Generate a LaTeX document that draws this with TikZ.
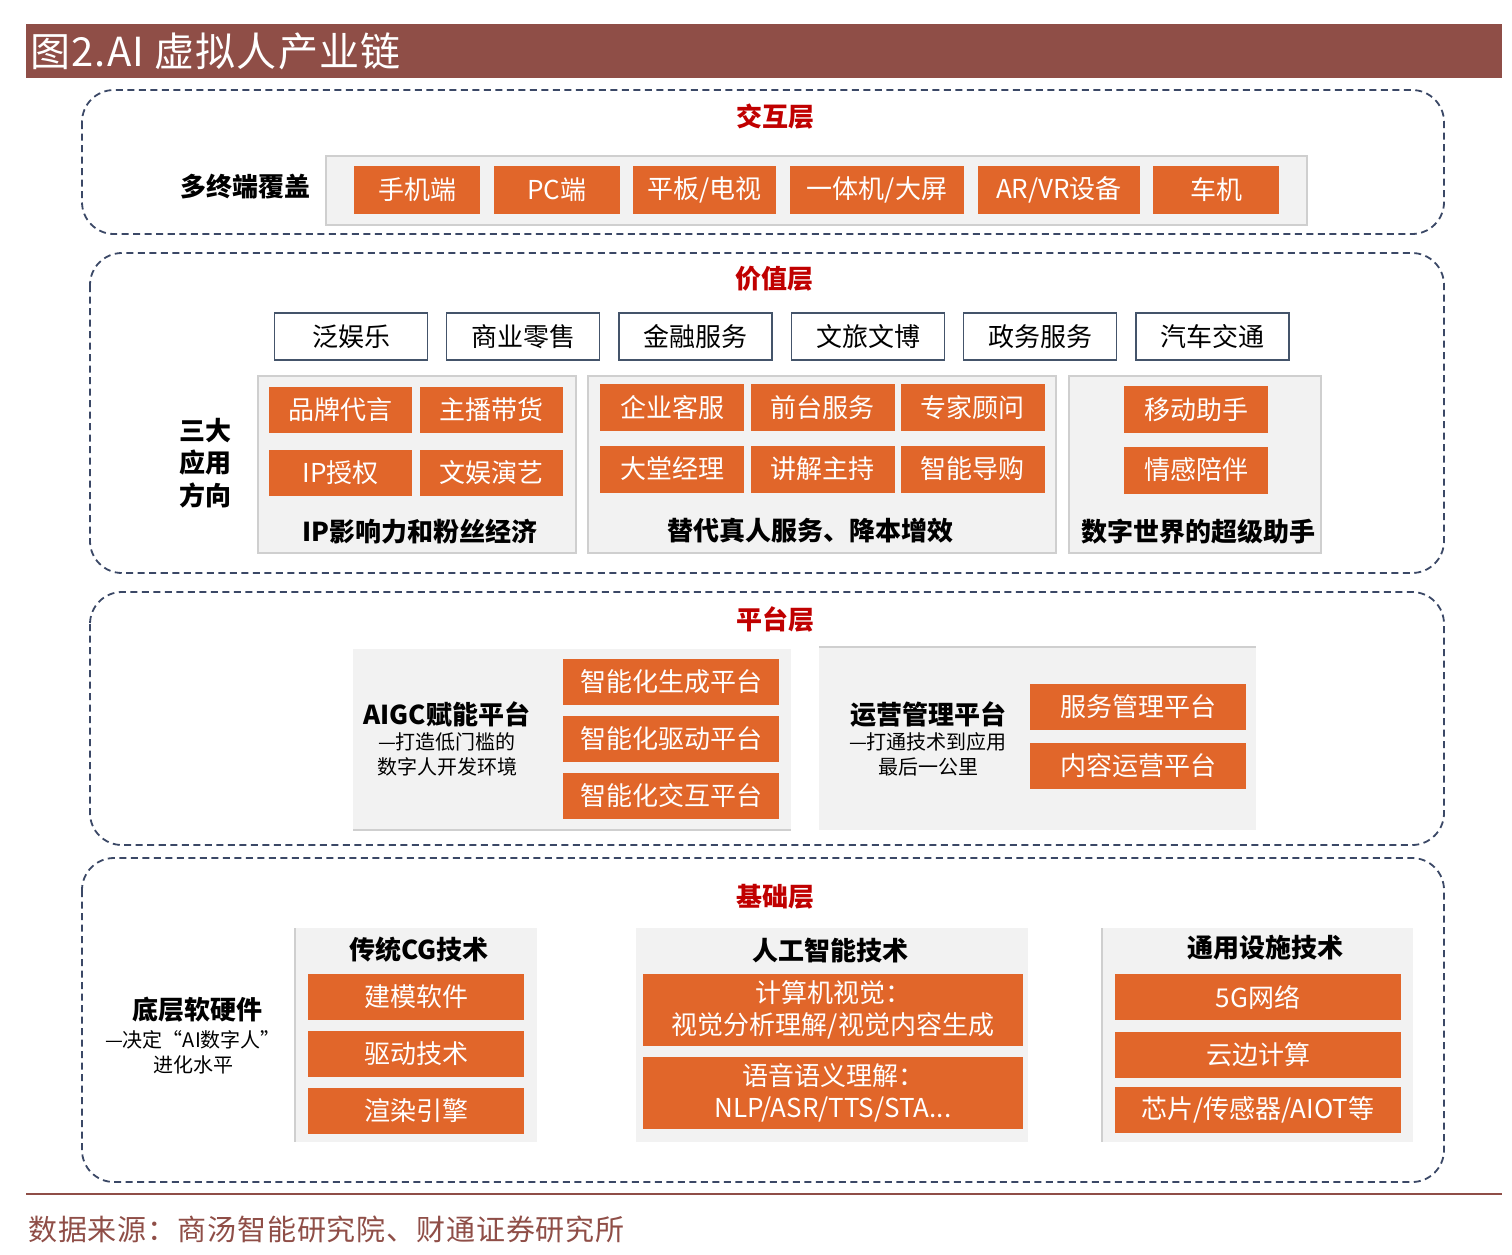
\documentclass[tikz,border=0pt]{standalone}
\usepackage{fontspec}
\setmainfont{Noto Sans CJK SC}
\definecolor{barbrown}{HTML}{8F4E47}
\definecolor{tileorange}{HTML}{E1662A}
\definecolor{layerred}{HTML}{C00000}
\definecolor{dashnavy}{HTML}{3B4866}
\definecolor{panelgray}{HTML}{F2F2F2}
\definecolor{edgegray}{HTML}{CFCFCF}
\definecolor{tagblue}{HTML}{44546A}

\begin{document}
\begin{tikzpicture}[x=1pt, y=-1pt,
    layer/.style={draw=dashnavy, line width=1.8pt, dash pattern=on 7pt off 4.5pt, rounded corners=32pt},
    panel/.style={fill=panelgray},
    edge/.style={draw=edgegray, line width=2pt},
    tile/.style={fill=tileorange, text=white, inner sep=0pt, minimum height=46pt, align=center, font=\fontsize{26}{32}\selectfont},
    tag/.style={draw=tagblue, line width=1.5pt, fill=white, inner sep=0pt, minimum width=153pt, minimum height=47pt, font=\fontsize{26}{32}\selectfont},
    head/.style={inner sep=0pt, align=center, font=\fontsize{26}{32.5}\selectfont\bfseries},
    lyr/.style={inner sep=0pt, text=layerred, font=\fontsize{26}{32}\selectfont\bfseries},
    note/.style={inner sep=0pt, align=center, font=\fontsize{20}{25}\selectfont}
]
\useasboundingbox (0,0) rectangle (1512,1254);

% title bar and source
\fill[barbrown] (26,24) rectangle (1502,78);
\node[anchor=west, inner sep=0pt, text=white, font=\fontsize{40}{44}\selectfont\addfontfeature{LetterSpace=3}] (title) at (30,51) {图2.AI 虚拟人产业链};
\draw[barbrown, line width=2pt] (26,1194) -- (1502,1194);
\node[anchor=west, inner sep=0pt, text=barbrown, font=\fontsize{29}{32}\selectfont\addfontfeature{LetterSpace=3}] (source) at (28,1229) {数据来源：商汤智能研究院、财通证券研究所};

% layers
\draw[layer] (82,90) rectangle (1444,234);
\draw[layer] (90,253) rectangle (1444,573);
\draw[layer] (90,592) rectangle (1444,845);
\draw[layer] (82,858) rectangle (1444,1182);
\node[lyr] (l1) at (775,117) {交互层};
\node[lyr] (l2) at (774,279) {价值层};
\node[lyr] (l3) at (775,619) {平台层};
\node[lyr] (l4) at (775,897) {基础层};

% interaction layer
\node[head] (term) at (245,187) {多终端覆盖};
\draw[panel, edge] (326,156) rectangle (1307,225);
\node[tile, minimum width=126pt, minimum height=48pt] (phone) at (417,190) {手机端};
\node[tile, minimum width=126pt, minimum height=48pt] (pc) at (557,190) {PC端};
\node[tile, minimum width=143pt, minimum height=48pt] (pad) at (704.5,190) {平板/电视};
\node[tile, minimum width=174pt, minimum height=48pt] (screen) at (877,190) {一体机/大屏};
\node[tile, minimum width=162pt, minimum height=48pt] (arvr) at (1059,190) {AR/VR设备};
\node[tile, minimum width=126pt, minimum height=48pt] (car) at (1216,190) {车机};

% value layer
\node[tag] (ent) at (351,336.5) {泛娱乐};
\node[tag] (retail) at (523,336.5) {商业零售};
\node[tag] (fin) at (695.5,336.5) {金融服务};
\node[tag] (tour) at (868,336.5) {文旅文博};
\node[tag] (gov) at (1040,336.5) {政务服务};
\node[tag] (auto) at (1212.5,336.5) {汽车交通};
\node[head] (three) at (205,463) {三大\\应用\\方向};

\draw[panel, edge] (258,376) rectangle (576,553);
\node[tile, minimum width=143pt] (brand) at (340.5,410) {品牌代言};
\node[tile, minimum width=143pt] (live) at (491,410) {主播带货};
\node[tile, minimum width=143pt] (ip) at (340.5,472.5) {IP授权};
\node[tile, minimum width=143pt] (show) at (491,472.5) {文娱演艺};
\node[head] (fans) at (420,532) {IP影响力和粉丝经济};

\draw[panel, edge] (588,376) rectangle (1056,553);
\node[tile, minimum width=144pt, minimum height=47pt] (cs) at (672,407.5) {企业客服};
\node[tile, minimum width=144pt, minimum height=47pt] (desk) at (822.5,407.5) {前台服务};
\node[tile, minimum width=144pt, minimum height=47pt] (expert) at (972.5,407.5) {专家顾问};
\node[tile, minimum width=144pt, minimum height=47pt] (lobby) at (672,469) {大堂经理};
\node[tile, minimum width=144pt, minimum height=47pt] (host) at (822.5,469) {讲解主持};
\node[tile, minimum width=144pt, minimum height=47pt] (guide) at (972.5,469) {智能导购};
\node[head] (serve) at (810,531) {替代真人服务、降本增效};

\draw[panel, edge] (1069,376) rectangle (1321,553);
\node[tile, minimum width=144pt, minimum height=47pt] (mobile) at (1196,409.5) {移动助手};
\node[tile, minimum width=144pt, minimum height=47pt] (emo) at (1196,470) {情感陪伴};
\node[head] (helper) at (1198,532) {数字世界的超级助手};

% platform layer
\fill[panel] (353,649) rectangle (791,830);
\draw[edge] (353,830) -- (791,830);
\node[head] (aigc) at (447,714) {AIGC赋能平台};
\node[note] (aigcnote) at (447,754.5) {—打造低门槛的\\数字人开发环境};
\node[tile, minimum width=216pt] (gen) at (671,682) {智能化生成平台};
\node[tile, minimum width=216pt] (drive) at (671,739) {智能化驱动平台};
\node[tile, minimum width=216pt] (inter) at (671,796) {智能化交互平台};

\fill[panel] (819,647) rectangle (1256,830);
\draw[edge] (819,647) -- (1256,647);
\node[head] (ops) at (928,714) {运营管理平台};
\node[note] (opsnote) at (928,754.5) {—打通技术到应用\\最后一公里};
\node[tile, minimum width=216pt] (svc) at (1138,707) {服务管理平台};
\node[tile, minimum width=216pt] (cont) at (1138,765.5) {内容运营平台};

% base layer
\node[head] (hw) at (197,1010) {底层软硬件};
\node[note] (hwnote) at (193,1052) {—决定“AI数字人”\\进化水平};

\fill[panel] (294,928) rectangle (537,1142);
\draw[edge] (295,928) -- (295,1142);
\node[head] (cg) at (419,950) {传统CG技术};
\node[tile, minimum width=216pt] (model) at (416,997) {建模软件};
\node[tile, minimum width=216pt] (drv) at (416,1054) {驱动技术};
\node[tile, minimum width=216pt] (render) at (416,1111) {渲染引擎};

\fill[panel] (636,928) rectangle (1028,1142);
\node[head] (ai) at (830,951) {人工智能技术};
\node[tile, minimum width=380pt, minimum height=72pt] (cv) at (833,1010) {计算机视觉：\\视觉分析理解/视觉内容生成};
\node[tile, minimum width=380pt, minimum height=72pt] (nlp) at (833,1092.5) {语音语义理解：\\NLP/ASR/TTS/STA...};

\fill[panel] (1101,928) rectangle (1413,1142);
\draw[edge] (1102,928) -- (1102,1142);
\node[head] (infra) at (1265,948) {通用设施技术};
\node[tile, minimum width=286pt] (net) at (1258,997) {5G网络};
\node[tile, minimum width=286pt] (cloud) at (1258,1055) {云边计算};
\node[tile, minimum width=286pt] (chip) at (1258,1110) {芯片/传感器/AIOT等};
\end{tikzpicture}
\end{document}
